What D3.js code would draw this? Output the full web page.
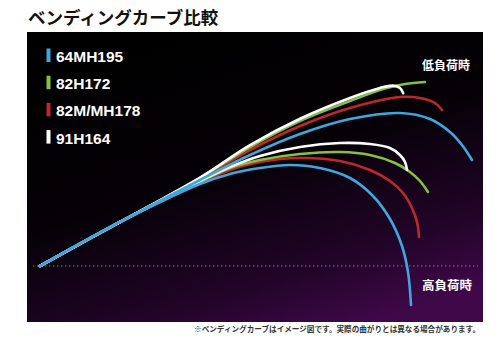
<!DOCTYPE html>
<html>
<head>
<meta charset="utf-8">
<script src="https://cdn.jsdelivr.net/npm/d3@7"></script>
<style>
  html, body { margin: 0; padding: 0; background: #fff; }
  svg { display: block; }
</style>
</head>
<body>
<div id="chart"></div>
<script>
// legend names, in legend order
const models = ["64MH195", "82H172", "82M/MH178", "91H164"];
const modelColors = ["#3fa6de", "#86c041", "#c0272d", "#ffffff"];

// curves: [length, deflection] (0,0 = butt, dotted line = 0)
const blueLow  = [[0,0],[20,11],[40,21.5],[52.5,27.75],[65,33],[77.5,36.75],[90,38.25],[97.5,36.75],[102.5,33.5],[105.5,30.25],[108,26.5]];
const greenLow = [[0,0],[20,11],[40,22],[52.5,29.75],[65,36.25],[77.5,41.25],[85.75,44.25],[91.25,45.5],[96.25,46]];
const redLow   = [[0,0],[20,11],[40,21.75],[52.5,29],[65,35],[77.5,39.5],[90,42.25],[95,42],[98.75,40.75],[100.5,39]];
const whiteLow = [[0,0],[20,11],[40,22.1],[52.5,30.2],[65,36.8],[77.5,42],[85,44.5],[88.2,45.1],[90,44.5],[90.8,43.2]];

const blueHigh  = [[0,0],[20,11],[40,20.5],[47.5,23],[55,24.5],[62.5,25.25],[70,24.5],[77.5,22],[83.25,17.5],[87.5,11.75],[90.5,5],[92,-1.5],[92.75,-9.75]];
const greenHigh = [[0,0],[20,11],[40,21],[47.5,24.5],[55,26.5],[65,28],[75,28.5],[82.5,27.75],[88.75,25.75],[92.5,23.5],[95,21.25],[97,18.5]];
const redHigh   = [[0,0],[20,11],[40,20.75],[47.5,24],[55,26],[65,27],[75,26.25],[82.5,24],[87.5,21.25],[90.75,18.25],[93,14.5],[94.25,11],[94.75,7.25]];
const whiteHigh = [[0,0],[20,11],[40,21.25],[47.5,24.75],[55,27.5],[65,29.75],[75,30.75],[82.5,30.5],[87.5,29.5],[90,27.75],[91.25,26],[91.75,24]];

const titleText = "ベンディングカーブ比較";
const lowLabel = "低負荷時";
const highLabel = "高負荷時";
const noteText = "※ベンディングカーブはイメージ図です。実際の曲がりとは異なる場合があります。";

const width = 502, height = 352;
const panel = { x: 27, y: 32, w: 456, h: 290 };

const svg = d3.select("#chart").append("svg")
  .attr("width", width)
  .attr("height", height);

const defs = svg.append("defs");
const grad = defs.append("linearGradient")
  .attr("id", "bg")
  .attr("x1", 0.25).attr("y1", 0)
  .attr("x2", 0.75).attr("y2", 1);
grad.append("stop").attr("offset", 0).attr("stop-color", "#000000");
grad.append("stop").attr("offset", 0.45).attr("stop-color", "#050106");
grad.append("stop").attr("offset", 0.8).attr("stop-color", "#220428");
grad.append("stop").attr("offset", 1).attr("stop-color", "#3f0849");

// title
svg.append("text")
  .attr("x", 28)
  .attr("y", 24)
  .attr("font-family", "Noto Sans CJK JP")
  .attr("font-weight", 700)
  .attr("font-size", 17.5)
  .attr("fill", "#111")
  .text(titleText);

svg.append("rect")
  .attr("x", panel.x).attr("y", panel.y)
  .attr("width", panel.w).attr("height", panel.h)
  .attr("fill", "url(#bg)");

const x = d3.scaleLinear().domain([0, 110]).range([40, 480]);
const y = d3.scaleLinear().domain([0, 60]).range([266, 26]);

// baseline (dotted)
svg.append("line")
  .attr("x1", 33).attr("x2", 478)
  .attr("y1", y(0)).attr("y2", y(0))
  .attr("stroke", "#8c6f8e")
  .attr("stroke-width", 1.2)
  .attr("stroke-dasharray", "1.5,2.5");

const line = d3.line()
  .x(d => x(d[0]))
  .y(d => y(d[1]))
  .curve(d3.curveCatmullRom.alpha(0.5));

// draw order: red, green, white, blue
const curves = [
  { data: redHigh, c: 2 }, { data: redLow, c: 2 },
  { data: greenHigh, c: 1 }, { data: greenLow, c: 1 },
  { data: whiteHigh, c: 3 }, { data: whiteLow, c: 3 },
  { data: blueHigh, c: 0 }, { data: blueLow, c: 0 }
];

svg.append("g")
  .selectAll("path")
  .data(curves)
  .enter()
  .append("path")
    .attr("d", d => line(d.data))
    .attr("fill", "none")
    .attr("stroke", d => modelColors[d.c])
    .attr("stroke-width", 2.6)
    .attr("stroke-linecap", "round");

// legend
const legend = svg.append("g");
legend.selectAll("rect")
  .data(models)
  .enter()
  .append("rect")
    .attr("x", 46.5)
    .attr("y", (d, i) => 48.5 + i * 27.2)
    .attr("width", 4)
    .attr("height", 13.5)
    .attr("fill", (d, i) => modelColors[i]);

legend.selectAll("text")
  .data(models)
  .enter()
  .append("text")
    .attr("x", 56)
    .attr("y", (d, i) => 62 + i * 27.2)
    .attr("font-family", "Liberation Sans")
    .attr("font-weight", 700)
    .attr("font-size", 15.5)
    .attr("fill", "#fff")
    .text(d => d);

// load labels
svg.append("text")
  .attr("x", 422).attr("y", 70)
  .attr("font-family", "Noto Sans CJK JP")
  .attr("font-weight", 700)
  .attr("font-size", 12)
  .attr("fill", "#fff")
  .text(lowLabel);

svg.append("text")
  .attr("x", 422).attr("y", 290)
  .attr("font-family", "Noto Sans CJK JP")
  .attr("font-weight", 700)
  .attr("font-size", 12.5)
  .attr("fill", "#fff")
  .text(highLabel);

// footnote
svg.append("text")
  .attr("x", 480).attr("y", 332)
  .attr("text-anchor", "end")
  .attr("font-family", "Noto Sans CJK JP")
  .attr("font-weight", 700)
  .attr("font-size", 7.6)
  .attr("fill", "#333")
  .text(noteText);
</script>
</body>
</html>
